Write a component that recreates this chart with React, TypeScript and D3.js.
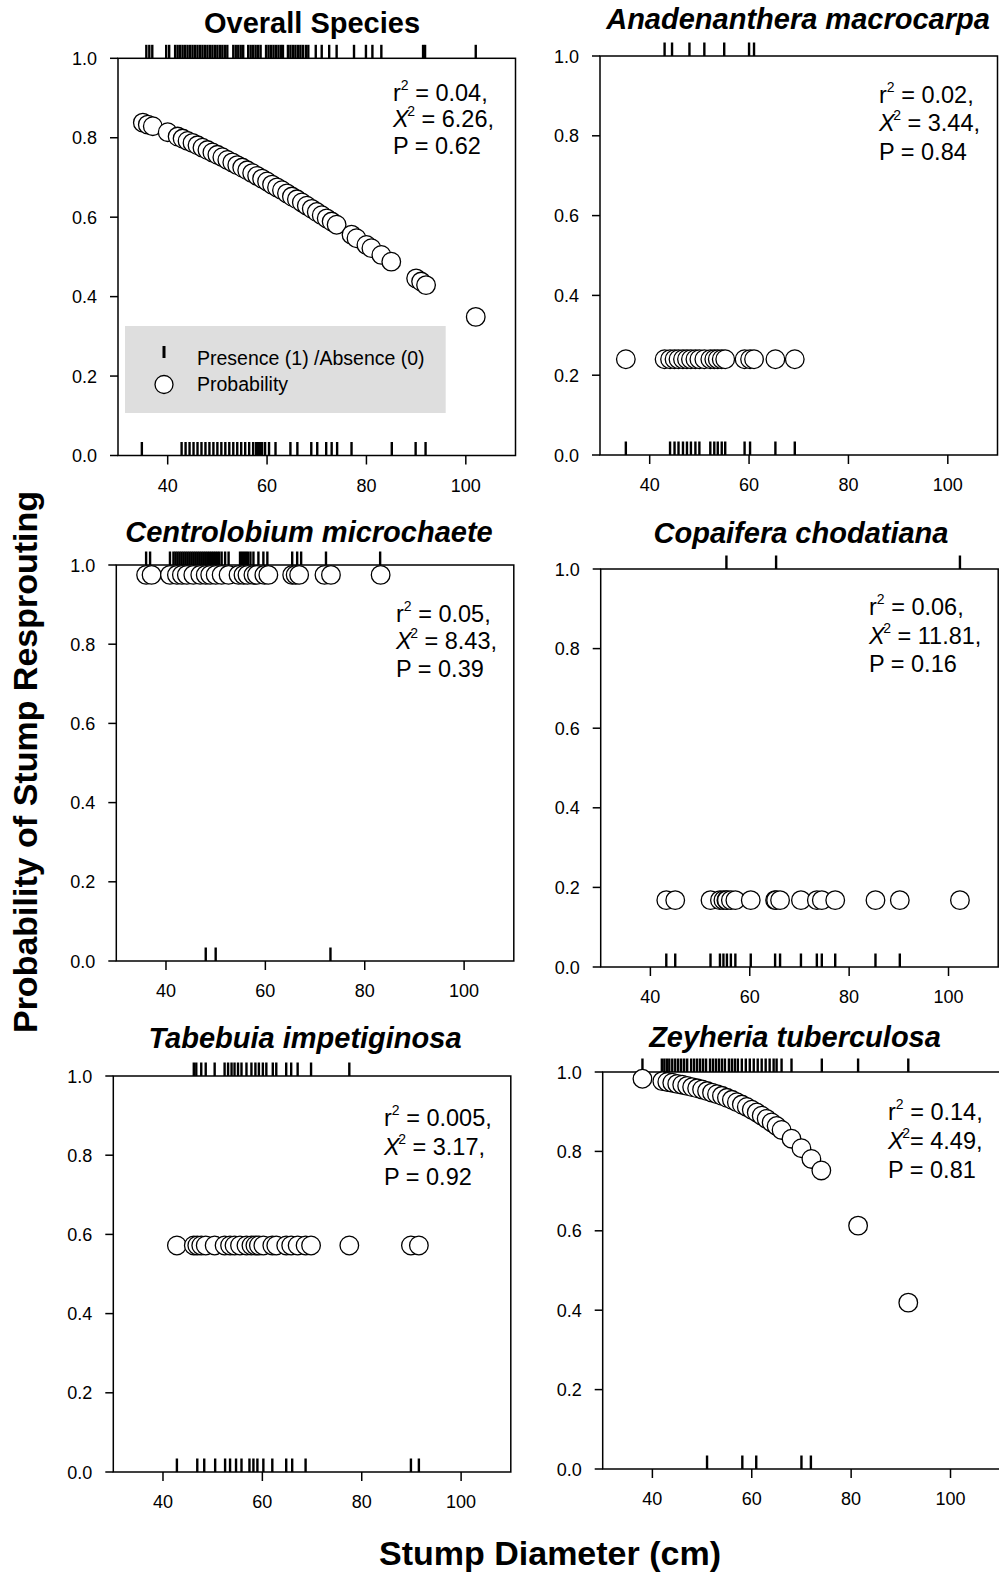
import React from 'react';
import * as d3 from 'd3';

const xTicks = [40, 60, 80, 100];
const yTicks = [0, 0.2, 0.4, 0.6, 0.8, 1.0];

// Overall Species
const overallPresence = [
  35.7, 36.3, 36.9, 39.7, 40.3, 41.5, 42, 42.5, 43, 43.5, 44, 44.5, 45, 45.5, 46, 46.5, 47, 47.5,
  48, 48.5, 49, 49.5, 50, 50.5, 51, 51.5, 52, 53.2, 53.7, 54.2, 54.7, 55.2, 56.2, 56.7, 57.2,
  57.7, 58.2, 58.7, 59.8, 60.3, 60.8, 61.3, 61.8, 62.3, 62.8, 63.2, 64.2, 64.7, 65.2, 65.7,
  66.2, 66.7, 67.2, 67.8, 68.3, 69.8, 71.0, 72.5, 74.0, 77.5, 79.9, 81.2, 83.0, 91.4, 91.8, 102.0,
];
const overallAbsence = [
  34.8, 42.8, 43.6, 44.4, 45.2, 46.0, 46.8, 47.6, 48.4, 49.2, 50.0, 50.8, 51.6, 52.4, 53.2, 54.0,
  54.8, 55.6, 56.4, 57.2, 57.8, 58.2, 58.6, 59.0, 59.6, 60.4, 61.7, 64.7, 66.1, 68.9, 70.1, 71.9,
  73.0, 74.1, 77.0, 85.1, 89.9, 91.9,
];
const overallProb = [
  [35, 0.838], [36, 0.833], [37, 0.829], [40, 0.814], [42, 0.803], [43, 0.798], [44, 0.792],
  [45, 0.787], [46, 0.781], [47, 0.775], [48, 0.769], [49, 0.763], [50, 0.757], [51, 0.751],
  [52, 0.744], [53, 0.738], [54, 0.731], [55, 0.725], [56, 0.718], [57, 0.711], [58, 0.704],
  [59, 0.697], [60, 0.69], [61, 0.682], [62, 0.675], [63, 0.668], [64, 0.66], [65, 0.652],
  [66, 0.645], [67, 0.637], [68, 0.629], [69, 0.621], [70, 0.613], [71, 0.605], [72, 0.597],
  [73, 0.589], [74, 0.581], [77, 0.556], [78, 0.547], [80, 0.53], [81, 0.522], [83, 0.505],
  [85, 0.488], [90, 0.446], [91, 0.438], [92, 0.429], [102, 0.349],
];
const overallStats = [' = 0.04,', ' = 6.26,', 'P = 0.62'];

// Anadenanthera macrocarpa
const anadenantheraPresence = [43, 44.5, 48, 51, 55, 60, 61];
const anadenantheraAbsence = [
  35.2, 44.1, 45.0, 45.8, 46.7, 47.5, 48.3, 49.2, 50.0, 52.2, 53.0, 53.7, 54.5, 55.2, 59.1, 60.2,
  65.3, 69.2,
];
const anadenantheraProb = [
  [35.2, 0.24], [43, 0.24], [44.1, 0.24], [45, 0.24], [45.8, 0.24], [46.7, 0.24], [47.5, 0.24],
  [48.3, 0.24], [49.2, 0.24], [50, 0.24], [51, 0.24], [52.2, 0.24], [53, 0.24], [53.7, 0.24],
  [54.5, 0.24], [55.2, 0.24], [59.1, 0.24], [60.2, 0.24], [61, 0.24], [65.3, 0.24], [69.2, 0.24],
];
const anadenantheraStats = [' = 0.02,', ' = 3.44,', 'P = 0.84'];

// Centrolobium microchaete
const centrolobiumPresence = [
  36.0, 36.8, 40.8, 41.5, 41.9, 42.3, 42.7, 43.1, 43.5, 43.9, 44.3, 44.7, 45.1, 45.5, 45.9, 46.3,
  46.7, 47.1, 47.5, 47.9, 48.3, 48.7, 49.1, 49.5, 49.9, 50.3, 50.7, 51.2, 51.9, 52.6, 54.9, 55.3,
  55.7, 56.1, 56.5, 57.0, 57.6, 58.6, 59.6, 60.4, 65.4, 66.4, 67.2, 72.2, 83.1,
];
const centrolobiumAbsence = [48.0, 50.0, 73.1];
const centrolobiumProb = [
  [36, 0.975], [37.1, 0.975], [40.8, 0.975], [42.2, 0.975], [43.2, 0.975], [44.2, 0.975],
  [45.5, 0.975], [46.9, 0.975], [48, 0.975], [48.9, 0.975], [50, 0.975], [51.2, 0.975],
  [52.6, 0.975], [54.6, 0.975], [55.6, 0.975], [56.4, 0.975], [57.6, 0.975], [58.3, 0.975],
  [59.8, 0.975], [60.6, 0.975], [65.4, 0.975], [66.1, 0.975], [66.8, 0.975], [71.9, 0.975],
  [73.2, 0.975], [83.2, 0.975],
];
const centrolobiumStats = [' = 0.05,', ' = 8.43,', 'P = 0.39'];

// Copaifera chodatiana
const copaiferaPresence = [55.3, 65.3, 102.3];
const copaiferaAbsence = [
  43.2, 45.0, 52.1, 54.0, 54.7, 55.4, 56.2, 57.1, 60.2, 65.1, 66.1, 70.3, 73.5, 74.5, 77.2, 85.3, 90.2,
];
const copaiferaProb = [
  [43.2, 0.168], [45, 0.168], [52.1, 0.168], [54, 0.168], [54.7, 0.168], [55.3, 0.168],
  [55.4, 0.168], [56.2, 0.168], [57.1, 0.168], [60.2, 0.168], [65.1, 0.168], [65.3, 0.168],
  [66.1, 0.168], [70.3, 0.168], [73.5, 0.168], [74.5, 0.168], [77.2, 0.168], [85.3, 0.168],
  [90.2, 0.168], [102.3, 0.168],
];
const copaiferaStats = [' = 0.06,', ' = 11.81,', 'P = 0.16'];

// Tabebuia impetiginosa
const tabebuiaPresence = [
  46.2, 46.7, 47.7, 48.6, 50.4, 52.4, 53.1, 53.8, 54.4, 55.1, 55.8, 56.8, 57.8, 58.6, 59.3, 60.1,
  60.8, 62.1, 62.8, 64.8, 65.8, 67.1, 69.8, 77.5,
];
const tabebuiaAbsence = [
  42.8, 46.9, 48.3, 50.5, 52.5, 53.5, 54.7, 55.8, 57.4, 58.2, 59.0, 60.2, 62.0, 64.8, 66.0, 68.7,
  89.9, 91.5,
];
const tabebuiaProb = [
  [42.8, 0.572], [46.2, 0.572], [46.9, 0.572], [47.7, 0.572], [48.6, 0.572], [50.4, 0.572],
  [52.4, 0.572], [53.5, 0.572], [54.4, 0.572], [55.5, 0.572], [56.8, 0.572], [57.8, 0.572],
  [58.6, 0.572], [59.3, 0.572], [60.2, 0.572], [62.0, 0.572], [62.8, 0.572], [64.8, 0.572],
  [65.8, 0.572], [67.1, 0.572], [68.7, 0.572], [69.8, 0.572], [77.5, 0.572], [89.9, 0.572],
  [91.5, 0.572],
];
const tabebuiaStats = [' = 0.005,', ' = 3.17,', 'P = 0.92'];

// Zeyheria tuberculosa
const zeyheriaPresence = [
  38.0, 41.9, 42.4, 42.9, 43.4, 44.0, 44.6, 45.2, 45.8, 46.4, 47.0, 47.8, 48.4, 49.0, 49.6, 50.2,
  50.8, 51.6, 52.2, 52.8, 53.4, 54.0, 54.6, 55.4, 56.0, 56.6, 57.2, 58.0, 58.8, 59.6, 60.4, 61.2,
  62.0, 62.8, 63.6, 64.4, 65.0, 66.0, 68.0, 74.1, 81.4, 91.5,
];
const zeyheriaAbsence = [51.0, 58.1, 60.9, 70.0, 71.9];
const zeyheriaProb = [
  [38, 0.983], [42, 0.977], [43, 0.975], [44, 0.973], [45, 0.97], [46, 0.968], [47, 0.965],
  [48, 0.962], [49, 0.959], [50, 0.956], [51, 0.952], [52, 0.948], [53, 0.944], [54, 0.94],
  [55, 0.935], [56, 0.93], [57, 0.924], [58, 0.918], [59, 0.912], [60, 0.905], [61, 0.898],
  [62, 0.89], [63, 0.882], [64, 0.873], [65, 0.864], [66, 0.854], [68, 0.832], [70, 0.808],
  [72, 0.781], [74, 0.752], [81.4, 0.613], [91.5, 0.419],
];
const zeyheriaStats = [' = 0.14,', '= 4.49,', 'P = 0.81'];

const panels = [
  {
    title: 'Overall Species', italic: false, presence: overallPresence, absence: overallAbsence,
    prob: overallProb, stats: overallStats, left: 118, top: 58.3, bottom: 455.5,
    titleX: 312, titleY: 33, statX: 393, statY: [101, 127, 154], legend: true,
  },
  {
    title: 'Anadenanthera macrocarpa', italic: true, presence: anadenantheraPresence,
    absence: anadenantheraAbsence, prob: anadenantheraProb, stats: anadenantheraStats,
    left: 600, top: 56, bottom: 455, titleX: 798, titleY: 29, statX: 879, statY: [103, 131, 160],
  },
  {
    title: 'Centrolobium microchaete', italic: true, presence: centrolobiumPresence,
    absence: centrolobiumAbsence, prob: centrolobiumProb, stats: centrolobiumStats,
    left: 116.3, top: 565, bottom: 961, titleX: 309, titleY: 542, statX: 396, statY: [622, 649, 677],
  },
  {
    title: 'Copaifera chodatiana', italic: true, presence: copaiferaPresence,
    absence: copaiferaAbsence, prob: copaiferaProb, stats: copaiferaStats,
    left: 600.7, top: 569, bottom: 967, titleX: 801, titleY: 543, statX: 869, statY: [615, 644, 672],
  },
  {
    title: 'Tabebuia impetiginosa', italic: true, presence: tabebuiaPresence,
    absence: tabebuiaAbsence, prob: tabebuiaProb, stats: tabebuiaStats,
    left: 113.3, top: 1076, bottom: 1472, titleX: 305, titleY: 1048, statX: 384,
    statY: [1126, 1155, 1185],
  },
  {
    title: 'Zeyheria tuberculosa', italic: true, presence: zeyheriaPresence,
    absence: zeyheriaAbsence, prob: zeyheriaProb, stats: zeyheriaStats,
    left: 602.7, top: 1072, bottom: 1469, titleX: 795, titleY: 1047, statX: 888,
    statY: [1120, 1149, 1178],
  },
];

const FONT = '"Liberation Sans", Arial, Helvetica, sans-serif';

function Panel({ p }: { p: any }) {
  const x = d3.scaleLinear().domain([30, 110]).range([p.left, p.left + 397.5]);
  const y = d3.scaleLinear().domain([0, 1]).range([p.bottom, p.top]);
  const [xl, xr] = x.range();
  const rug = 13.5;

  return (
    <g>
      <text x={p.titleX} y={p.titleY} textAnchor="middle" fontSize={29} fontWeight="bold"
        fontStyle={p.italic ? 'italic' : 'normal'}>{p.title}</text>

      <rect x={xl} y={y(1)} width={xr - xl} height={y(0) - y(1)} fill="none" stroke="#000" strokeWidth={1.5} />

      {yTicks.map((t) => (
        <g key={'y' + t}>
          <line x1={xl - 8} x2={xl} y1={y(t)} y2={y(t)} stroke="#000" strokeWidth={1.5} />
          <text x={xl - 21} y={y(t) + 6.5} textAnchor="end" fontSize={18}>{t.toFixed(1)}</text>
        </g>
      ))}
      {xTicks.map((t) => (
        <g key={'x' + t}>
          <line x1={x(t)} x2={x(t)} y1={y(0)} y2={y(0) + 9} stroke="#000" strokeWidth={1.5} />
          <text x={x(t)} y={y(0) + 36} textAnchor="middle" fontSize={18}>{t}</text>
        </g>
      ))}

      {p.presence.map((d: number, i: number) => (
        <line key={'p' + i} x1={x(d)} x2={x(d)} y1={y(1) - rug} y2={y(1)} stroke="#000" strokeWidth={2.4} />
      ))}
      {p.absence.map((d: number, i: number) => (
        <line key={'a' + i} x1={x(d)} x2={x(d)} y1={y(0) - rug} y2={y(0)} stroke="#000" strokeWidth={2.4} />
      ))}

      {p.legend && (
        <g>
          <rect x={125} y={326} width={320.7} height={87} fill="#dedede" />
          <line x1={164} x2={164} y1={346} y2={358} stroke="#000" strokeWidth={3} />
          <circle cx={164} cy={384.5} r={9} fill="#fff" stroke="#000" strokeWidth={1.3} />
          <text x={197} y={365} fontSize={19.5}>Presence (1) /Absence (0)</text>
          <text x={197} y={391} fontSize={19.5}>Probability</text>
        </g>
      )}

      {p.prob.map((d: number[], i: number) => (
        <circle key={'c' + i} cx={x(d[0])} cy={y(d[1])} r={9.3} fill="#fff" stroke="#000" strokeWidth={1.3} />
      ))}

      <text x={p.statX} y={p.statY[0]} fontSize={23.5}>
        <tspan>r</tspan>
        <tspan fontSize={14} dy={-11}>2</tspan>
        <tspan dy={11}>{p.stats[0]}</tspan>
      </text>
      <text x={p.statX} y={p.statY[1]} fontSize={23.5}>
        <tspan fontStyle="italic">X</tspan>
        <tspan fontSize={14} dy={-11} dx={-1.5}>2</tspan>
        <tspan dy={11}>{p.stats[1]}</tspan>
      </text>
      <text x={p.statX} y={p.statY[2]} fontSize={23.5}>{p.stats[2]}</text>
    </g>
  );
}

export default function App() {
  return (
    <div style={{ position: 'absolute', left: 0, top: 0 }}>
      <svg width={999} height={1579} viewBox="0 0 999 1579" style={{ display: 'block', background: '#fff' }}
        fontFamily={FONT}>
        {panels.map((p) => (
          <Panel key={p.title} p={p} />
        ))}
        <text transform="translate(37,762) rotate(-90)" textAnchor="middle" fontSize={34} fontWeight="bold">
          Probability of Stump Resprouting
        </text>
        <text x={550} y={1565} textAnchor="middle" fontSize={34} fontWeight="bold">
          Stump Diameter (cm)
        </text>
      </svg>
    </div>
  );
}
